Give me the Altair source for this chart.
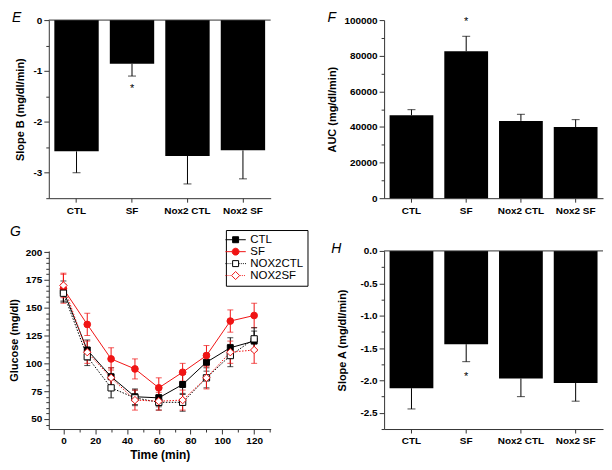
import altair as alt
import pandas as pd

# ---------------- data ----------------
groups = ["CTL", "SF", "Nox2 CTL", "Nox2 SF"]

slopeB_mean = [-2.58, -0.86, -2.67, -2.56]
slopeB_se = [0.42, 0.24, 0.55, 0.56]
slopeB_star = -1.35
slopeB_major = [0, -1, -2, -3]
slopeB_minor = [-0.5, -1.5, -2.5, -3.5]

auc_mean = [46600, 82500, 43400, 39900]
auc_se = [3100, 8400, 3700, 4200]
auc_star = 99000
auc_major = [0, 20000, 40000, 60000, 80000, 100000]
auc_minor = [10000, 30000, 50000, 70000, 90000]

slopeA_mean = [-2.12, -1.44, -1.97, -2.04]
slopeA_se = [0.32, 0.27, 0.28, 0.28]
slopeA_star = -1.95
slopeA_major = [0, -0.5, -1, -1.5, -2, -2.5]
slopeA_minor = [-0.25, -0.75, -1.25, -1.75, -2.25, -2.75]

time_min = [0, 15, 30, 45, 60, 75, 90, 105, 120]
time_major = [0, 20, 40, 60, 80, 100, 120]
time_minor = [10, 30, 50, 70, 90, 110, 130]
glu_major = [50, 75, 100, 125, 150, 175, 200]
glu_minor = [45, 55, 60, 65, 70, 80, 85, 90, 95, 105, 110, 115, 120, 130, 135, 140,
             145, 155, 160, 165, 170, 180, 185, 190, 195]
series_names = ["CTL", "SF", "NOX2CTL", "NOX2SF"]
glu_ctl = [165, 112, 88, 70, 69, 81, 101, 114, 120]
glu_ctl_sd = [9, 9, 8, 7, 8, 9, 8, 9, 9]
glu_sf = [167, 135, 104, 95, 78, 92, 107, 138, 143]
glu_sf_sd = [13, 10, 10, 9, 9, 8, 9, 10, 11]
glu_nox2ctl = [163, 106, 78, 69, 65, 65, 87, 107, 122]
glu_nox2ctl_sd = [8, 8, 9, 7, 7, 8, 9, 10, 10]
glu_nox2sf = [170, 110, 87, 67, 66, 67, 87, 110, 112]
glu_nox2sf_sd = [11, 10, 9, 9, 8, 9, 10, 10, 12]

# ---------------- style ----------------
FONT = "Liberation Sans"
AX = "#333333"
RED = "#f01414"
W1, W2, H = 223, 220, 179


def letter_title(letter, dx):
    return alt.TitleParams(letter, anchor="start", frame="group", dx=dx, offset=-10, fontSize=14,
                           fontStyle="italic", fontWeight="normal", font=FONT, color="black")


def minor_axis(vals, orient):
    return alt.Axis(values=vals, tickCount=100, labels=False, domain=False, title=None,
                    tickSize=3, orient=orient, grid=False)


def bar_panel(means, ses, star, domain, major, minor, label_expr,
              ytitle, tpad, letter, letter_dx, width, zero_line):
    df = pd.DataFrame({"group": groups, "mean": means, "se": ses})
    df["err_end"] = [m + (s if m > 0 else -s) for m, s in zip(means, ses)]
    base = alt.Chart(df)
    xscale = alt.Scale(paddingInner=0.2, paddingOuter=0.1)
    xenc = alt.X("group:N", sort=groups, scale=xscale,
                 axis=alt.Axis(title=None, labelAngle=0, tickSize=4, labelPadding=3,
                               labelOverlap=False))
    yscale = alt.Scale(domain=domain, nice=False, zero=True)
    yaxis = alt.Axis(title=ytitle, values=major, tickCount=100, labelExpr=label_expr,
                     tickSize=5, labelPadding=2, titlePadding=tpad, grid=False,
                     labelOverlap=False)
    bars = base.mark_bar(color="black").encode(
        x=xenc, y=alt.Y("mean:Q", scale=yscale, axis=yaxis))
    err = base.mark_rule(color="black", strokeWidth=1).encode(
        x=alt.X("group:N", sort=groups), y="mean:Q", y2="err_end:Q")
    cap = base.mark_tick(color="black", thickness=1, size=8, orient="horizontal").encode(
        x=alt.X("group:N", sort=groups), y="err_end:Q")
    star_df = pd.DataFrame({"group": ["SF"], "star": [star]})
    st = alt.Chart(star_df).mark_text(text="*", fontSize=11, font=FONT, fill="#000000").encode(
        x=alt.X("group:N", sort=groups), y="star:Q")
    layers = [bars, err, cap, st]
    if zero_line:
        layers.append(alt.Chart(star_df).mark_rule(color=AX, strokeWidth=1).encode(y=alt.datum(0)))
    main = alt.layer(*layers)
    ticks = base.mark_point(opacity=0).encode(
        x=alt.X("group:N", sort=groups),
        y=alt.Y("mean:Q", scale=yscale, axis=minor_axis(minor, "left")))
    return alt.layer(main, ticks).resolve_axis(y="independent").properties(
        width=width, height=H, title=letter_title(letter, letter_dx))


E = bar_panel(slopeB_mean, slopeB_se, slopeB_star, [-3.5, 0], slopeB_major, slopeB_minor,
              "'' + datum.value",
              "Slope B (mg/dl/min)", 8, "E", -37, W1, True)

F = bar_panel(auc_mean, auc_se, auc_star, [0, 100000], auc_major, auc_minor,
              "'' + datum.value",
              "AUC (mg/dl/min)", 6, "F", -57, W2, False)

Hc = bar_panel(slopeA_mean, slopeA_se, slopeA_star, [-2.75, 0], slopeA_major, slopeA_minor,
               "(datum.value < 0 ? '-' : '') + format(abs(datum.value), '.1f')",
               "Slope A (mg/dl/min)", 13, "H", -53, W2, True)

# ---------------- panel G ----------------
gx_scale = alt.Scale(domain=[-9.2, 130.4], nice=False, zero=False)
gy_scale = alt.Scale(domain=[41, 201], nice=False, zero=False)
xaxis = alt.Axis(title="Time   (min)", values=time_major, tickCount=100, labelExpr="'' + datum.value",
                 tickSize=5, labelPadding=2, titlePadding=4, titleFontSize=12, grid=False,
                 labelOverlap=False)
yaxis = alt.Axis(title="Glucose  (mg/dl)", values=glu_major, tickCount=100, labelExpr="'' + datum.value",
                 tickSize=5, labelPadding=2, titlePadding=6, grid=False, labelOverlap=False)

styles = [
    ("CTL", glu_ctl, glu_ctl_sd, "black", "square", True, None, 36),
    ("SF", glu_sf, glu_sf_sd, RED, "circle", True, None, 45),
    ("NOX2CTL", glu_nox2ctl, glu_nox2ctl_sd, "black", "square", False, [1.5, 1.5], 40),
    ("NOX2SF", glu_nox2sf, glu_nox2sf_sd, RED, "diamond", False, [1.5, 1.5], 55),
]

g_lines, g_err, g_pts = [], [], []
first_df = None
for name, means, sds, color, shape, filled, dash, size in styles:
    df = pd.DataFrame({"time": time_min, "mean": means,
                       "lo": [m - s for m, s in zip(means, sds)],
                       "hi": [m + s for m, s in zip(means, sds)]})
    if first_df is None:
        first_df = df
    base = alt.Chart(df)
    x = alt.X("time:Q", scale=gx_scale, axis=xaxis)
    y = alt.Y("mean:Q", scale=gy_scale, axis=yaxis)
    lk = dict(color=color, strokeWidth=1)
    if dash:
        lk["strokeDash"] = dash
    g_lines.append(base.mark_line(**lk).encode(x=x, y=y))
    g_err.append(base.mark_rule(color=color, strokeWidth=1).encode(x="time:Q", y="lo:Q", y2="hi:Q"))
    g_err.append(base.mark_tick(color=color, thickness=1, size=6, orient="horizontal").encode(x="time:Q", y="lo:Q"))
    g_err.append(base.mark_tick(color=color, thickness=1, size=6, orient="horizontal").encode(x="time:Q", y="hi:Q"))
    g_pts.append(base.mark_point(shape=shape, size=size, filled=False, opacity=1, strokeWidth=1,
                                 color=color, fill=(color if filled else "white")).encode(x="time:Q", y="mean:Q"))


# legend symbols: line segment + marker drawn as one custom path
def dotted(a, b):
    s, p = "", a
    while p < b - 0.05:
        s += "M%.2f,0h0.3" % p
        p += 0.7
    return s


def seg(a, b):
    return "M%.2f,0H%.2f" % (a, b)


sq = "M-1,-1H1V1H-1Z"
circ = "M-1.15,0A1.15,1.15 0 1,0 1.15,0A1.15,1.15 0 1,0 -1.15,0Z"
dia = "M0,-1.35L1.35,0L0,1.35L-1.35,0Z"
leg_paths = [
    seg(-3.4, -1) + seg(1, 3.4) + sq,
    seg(-3.4, -1.15) + seg(1.15, 3.4) + circ,
    dotted(-3.4, -1) + dotted(1.05, 3.4) + sq,
    dotted(-3.4, -1.35) + dotted(1.4, 3.4) + dia,
]
leg_stroke = ["black", RED, "black", RED]
leg_fill = ["black", RED, "white", "white"]

legend = alt.Legend(title=None, orient="none", legendX=178, legendY=-21,
                    strokeColor="black", fillColor="white", padding=4,
                    labelFont=FONT, labelFontSize=11.5, labelFontWeight="normal",
                    labelColor="black", symbolStrokeWidth=1, symbolSize=36,
                    labelOffset=9, rowPadding=-1.5)
leg_df = pd.DataFrame({"series": series_names})
dummy = alt.Chart(leg_df).transform_filter("false").mark_point(opacity=1, strokeWidth=1).encode(
    shape=alt.Shape("series:N", sort=series_names,
                    scale=alt.Scale(domain=series_names, range=leg_paths), legend=legend),
    stroke=alt.Stroke("series:N", sort=series_names,
                      scale=alt.Scale(domain=series_names, range=leg_stroke), legend=legend),
    fill=alt.Fill("series:N", sort=series_names,
                  scale=alt.Scale(domain=series_names, range=leg_fill), legend=legend),
)

g_main = alt.layer(*(g_lines + g_err + g_pts + [dummy]))
g_ticks = alt.Chart(first_df).mark_point(opacity=0).encode(
    x=alt.X("time:Q", scale=gx_scale, axis=minor_axis(time_minor, "bottom")),
    y=alt.Y("mean:Q", scale=gy_scale, axis=minor_axis(glu_minor, "left")))
G = alt.layer(g_main, g_ticks).resolve_axis(x="independent", y="independent").properties(
    width=W1, height=H, title=letter_title("G", -39))

chart = alt.concat(E, F, G, Hc, columns=2, spacing={"row": 53, "column": 114},
                   bounds="flush").properties(
    padding={"top": 2, "left": 0, "right": 0, "bottom": 0}
).resolve_legend(
    shape="independent", stroke="independent", fill="independent"
).configure_axis(
    labelFont=FONT, labelFontWeight="bold", labelFontSize=10, labelColor="black",
    titleFont=FONT, titleFontWeight="bold", titleFontSize=11, titleColor="black",
    domainColor=AX, tickColor=AX, grid=False, labelOverlap=False
).configure_view(stroke=None)

chart.save("out.html", embed_options={"renderer": "svg", "actions": False})
